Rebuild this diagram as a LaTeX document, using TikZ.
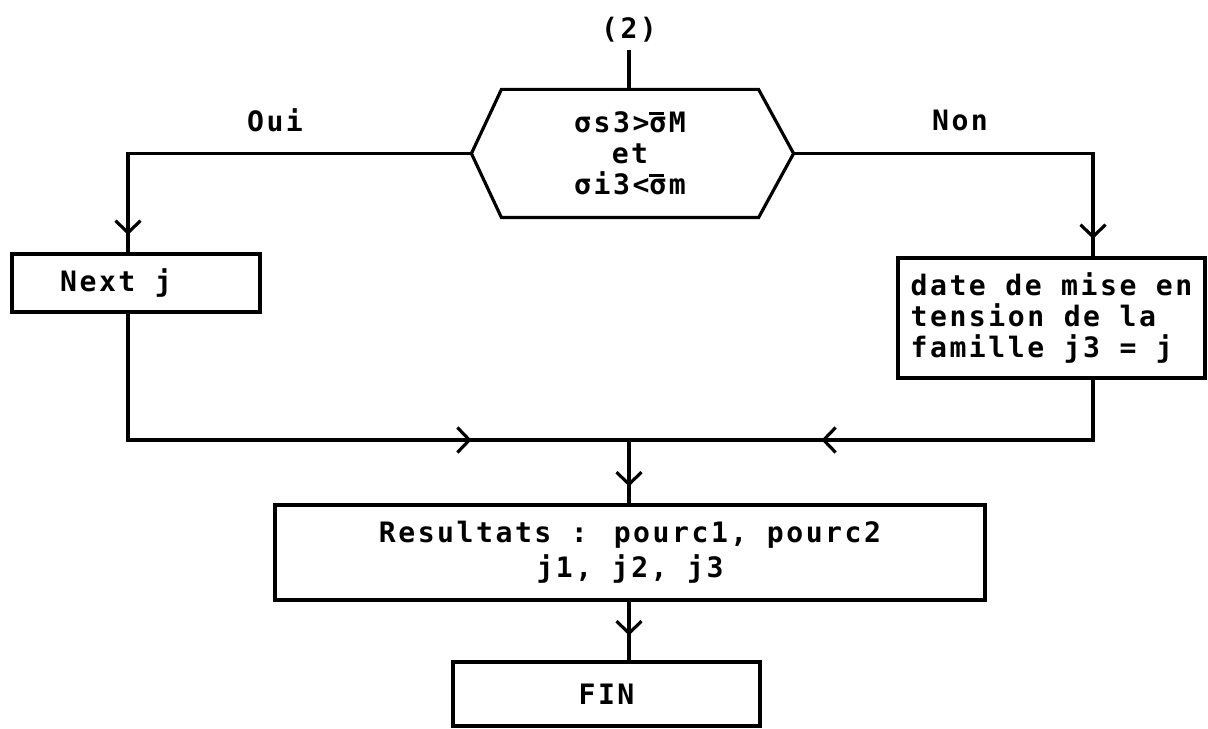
\documentclass[tikz,border=0pt]{standalone}
\usepackage{fontspec}
\usepackage{tikz}
\usetikzlibrary{arrows.meta, positioning, calc, decorations.markings}
\newfontfamily\dotfont{DejaVu Sans Mono}[LetterSpace=9]
\newcommand{\sbar}{\makebox[0pt][l]{\raisebox{0.64em}{\rule{0.5em}{0.09em}}}σ}

\begin{document}
\begin{tikzpicture}[
  line width=1.8pt,
  font=\dotfont\bfseries\fontsize{16}{17.6}\selectfont,
  box/.style={draw, rectangle, inner sep=0pt},
  arrowat/.style={postaction={decorate}, decoration={markings,
    mark=at position #1 with {\arrow{Straight Barb[length=0.24cm, width=0.5cm]}}}}
]
  \useasboundingbox (0,0) rectangle (24.16,14.58);

  \node (lbl) at (12.58,13.98) {(2)};
  \node[minimum width=5.08cm, minimum height=2.5cm, align=center] (dec) at (12.6,11.51)
    {σs3>\sbar M\\et\\σi3<\sbar m};
  \coordinate (tipL) at ($(dec.west)+(-0.6,0)$);
  \coordinate (tipR) at ($(dec.east)+(0.7,0)$);
  \draw (dec.north west) -- (dec.north east) -- (tipR) -- (dec.south east)
    -- (dec.south west) -- (tipL) -- cycle;
  \draw (lbl) -- (lbl |- dec.north);

  \node (oui) at (5.5,12.18) {Oui};
  \node (non) at (19.2,12.18) {Non};

  \node[box, minimum width=4.96cm, minimum height=1.16cm] (nextj) at (2.72,8.92)
    {Next j\hspace*{0.8cm}};
  \node[box, minimum width=6.14cm, minimum height=2.4cm, align=left] (datebox) at (21.03,8.22)
    {date de mise en\\tension de la\\famille j3 = j};
  \node[box, minimum width=14.2cm, minimum height=1.9cm, align=center] (res) at (12.6,3.53)
    {Resultats : pourc1, pourc2\\[0.08cm]j1, j2, j3};
  \node[box, minimum width=6.14cm, minimum height=1.28cm] (fin) at (12.13,0.7) {FIN};

  \coordinate (colL) at (2.56,5.78);
  \coordinate (colR) at (21.86,5.78);
  \coordinate (merge) at (12.58,5.78);

  \draw[arrowat=-0.35cm] (tipL) -| (nextj.north -| colL);
  \draw[arrowat=-0.35cm] (tipR) -| (datebox.north -| colR);
  \draw[arrowat=9.4cm] (nextj.south -| colL) |- (merge);
  \draw[arrowat=6.64cm] (datebox.south -| colR) |- (merge);
  \draw[arrowat=-0.34cm] (merge) -- (merge |- res.north);
  \draw[arrowat=-0.5cm] (merge |- res.south) -- (merge |- fin.north);
\end{tikzpicture}
\end{document}
